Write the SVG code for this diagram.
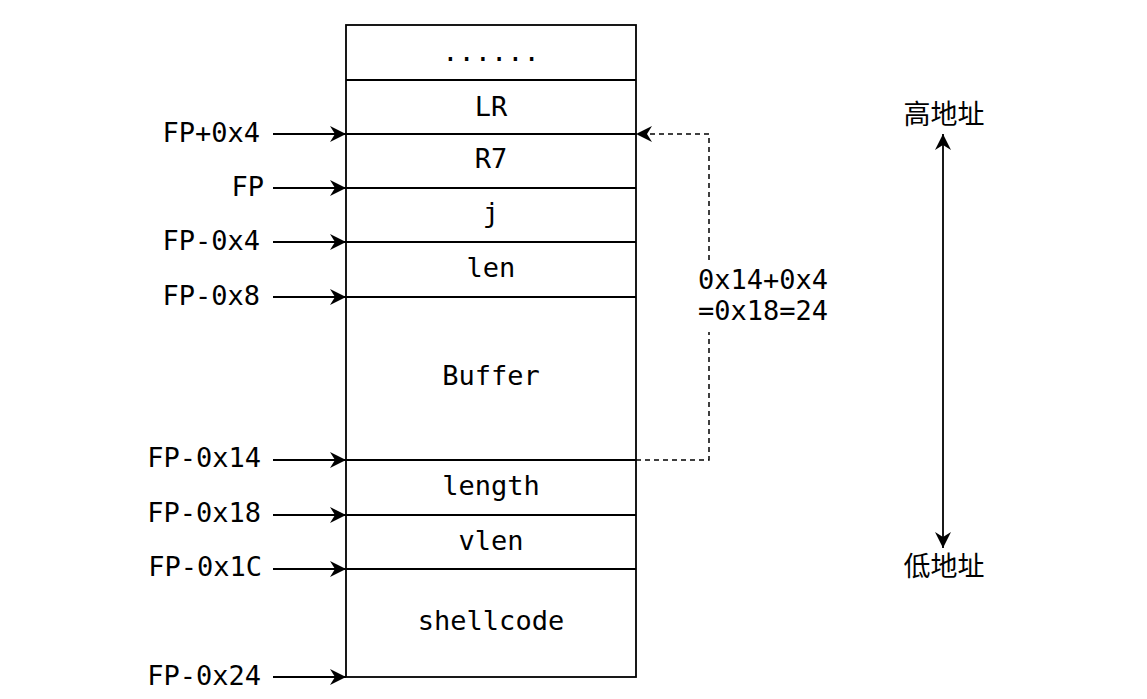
<svg xmlns="http://www.w3.org/2000/svg" width="1147" height="699" viewBox="0 0 1147 699">
<style>
  .t { font-family: "DejaVu Sans Mono", monospace; font-size: 27px; fill: #000; }
  .c { text-anchor: middle; }
  .e { text-anchor: end; }
  .cjk { font-family: "Noto Sans CJK SC", sans-serif; font-size: 27px; fill: #000; text-anchor: middle; }
  .box { fill: #fff; stroke: #000; stroke-width: 1.8; }
  .sep { stroke: #000; stroke-width: 1.8; fill: none; }
  .arr { stroke: #000; stroke-width: 1.8; fill: none; marker-end: url(#ah); }
  .dash { stroke: #000; stroke-width: 1.5; fill: none; stroke-dasharray: 5 4; }
</style>
<defs>
  <marker id="ah" markerUnits="userSpaceOnUse" markerWidth="20" markerHeight="18" refX="16" refY="8" orient="auto" overflow="visible">
    <path d="M0,0 L16,8 L0,16 L5,8 Z" fill="#000" stroke="none"/>
  </marker>
  <marker id="ahs" markerUnits="userSpaceOnUse" markerWidth="20" markerHeight="18" refX="16" refY="8" orient="auto-start-reverse" overflow="visible">
    <path d="M0,0 L16,8 L0,16 L5,8 Z" fill="#000" stroke="none"/>
  </marker>
</defs>
<rect width="1147" height="699" fill="#fff"/>

<g id="stack">
  <rect class="box" x="346" y="25" width="290" height="652"/>
  <line class="sep" x1="346" y1="80" x2="636" y2="80"/>
  <line class="sep" x1="346" y1="134" x2="636" y2="134"/>
  <line class="sep" x1="346" y1="188" x2="636" y2="188"/>
  <line class="sep" x1="346" y1="242" x2="636" y2="242"/>
  <line class="sep" x1="346" y1="297" x2="636" y2="297"/>
  <line class="sep" x1="346" y1="460" x2="636" y2="460"/>
  <line class="sep" x1="346" y1="515" x2="636" y2="515"/>
  <line class="sep" x1="346" y1="569" x2="636" y2="569"/>
</g>
<g id="cell-dots"><text class="t c" x="491" y="61">......</text></g>
<g id="cell-lr"><text class="t c" x="491" y="116">LR</text></g>
<g id="cell-r7"><text class="t c" x="491" y="168">R7</text></g>
<g id="cell-j"><text class="t c" x="491" y="222">j</text></g>
<g id="cell-len"><text class="t c" x="491" y="277">len</text></g>
<g id="cell-buffer"><text class="t c" x="491" y="385">Buffer</text></g>
<g id="cell-length"><text class="t c" x="491" y="495">length</text></g>
<g id="cell-vlen"><text class="t c" x="491" y="550">vlen</text></g>
<g id="cell-shellcode"><text class="t c" x="491" y="630">shellcode</text></g>

<g id="labels">
  <text class="t e" x="260" y="142">FP+0x4</text>
  <text class="t e" x="264" y="196">FP</text>
  <text class="t e" x="260" y="250">FP-0x4</text>
  <text class="t e" x="260" y="305">FP-0x8</text>
  <text class="t e" x="261" y="467">FP-0x14</text>
  <text class="t e" x="261" y="522">FP-0x18</text>
  <text class="t e" x="262" y="576">FP-0x1C</text>
  <text class="t e" x="261" y="685">FP-0x24</text>
</g>

<g id="connectors">
  <line class="arr" x1="273" y1="134" x2="346" y2="134"/>
  <line class="arr" x1="273" y1="188" x2="346" y2="188"/>
  <line class="arr" x1="273" y1="242" x2="346" y2="242"/>
  <line class="arr" x1="273" y1="297" x2="346" y2="297"/>
  <line class="arr" x1="273" y1="460" x2="346" y2="460"/>
  <line class="arr" x1="273" y1="515" x2="346" y2="515"/>
  <line class="arr" x1="273" y1="569" x2="346" y2="569"/>
  <line class="arr" x1="273" y1="677" x2="346" y2="677"/>
  <path class="dash" d="M636,460 L709,460 L709,332"/>
  <path class="dash" d="M709,260 L709,134 L636,134" marker-end="url(#ah)"/>
  <line x1="943" y1="134" x2="943" y2="548" stroke="#000" stroke-width="1.8" marker-start="url(#ahs)" marker-end="url(#ahs)"/>
</g>

<g id="offset-label">
  <text class="t c" x="763" y="289">0x14+0x4</text>
  <text class="t c" x="763" y="320">=0x18=24</text>
</g>
<g id="high-label"><text class="cjk" x="944" y="124">高地址</text></g>
<g id="low-label"><text class="cjk" x="944" y="576">低地址</text></g>
</svg>
